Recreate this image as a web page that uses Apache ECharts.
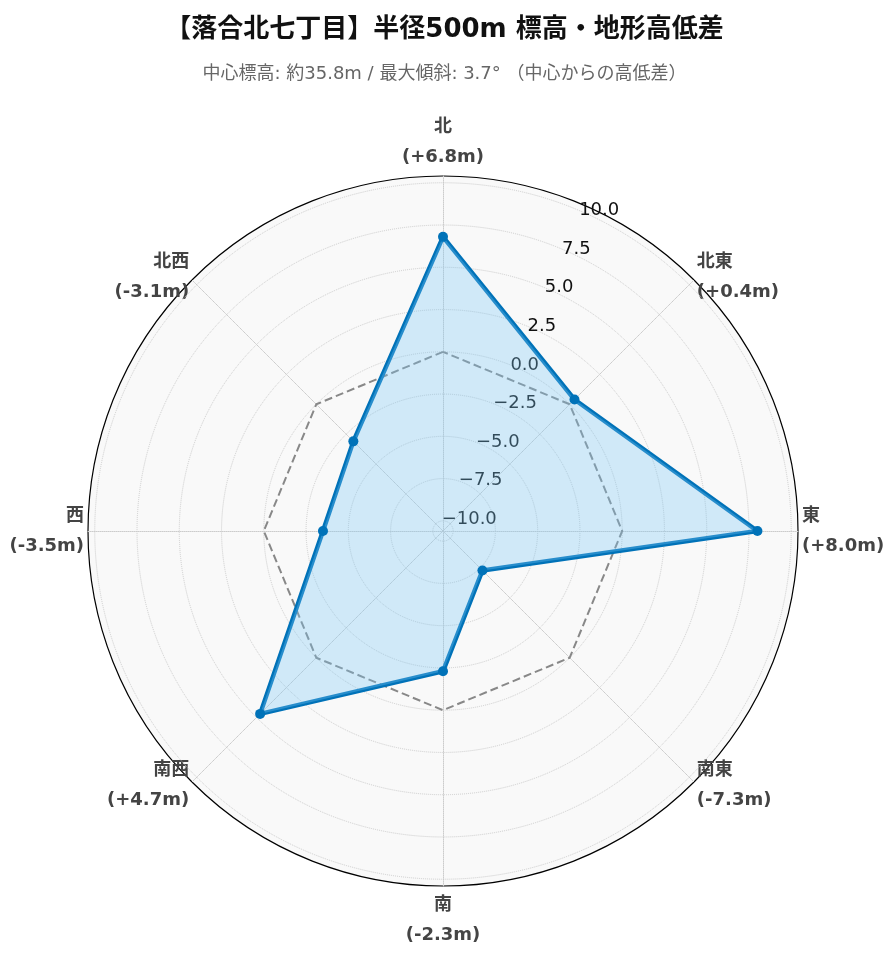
<!DOCTYPE html>
<html><head><meta charset="utf-8">
<script src="https://cdn.jsdelivr.net/npm/echarts@6/dist/echarts.min.js"></script>
<style>html,body{margin:0;padding:0;background:#fff}#c{width:889px;height:962px}</style>
</head><body><div id="c"></div>
<script>
const directions = ['北','北東','東','南東','南','南西','西','北西'];
const values = [6.8, 0.4, 8.0, -7.3, -2.3, 4.7, -3.5, -3.1];
const radialTicks = [-10, -7.5, -5, -2.5, 0, 2.5, 5, 7.5, 10];
const rMin = -10.6, rMax = 10.4;

const order = [0,7,6,5,4,3,2,1];
const fmt = v => (v >= 0 ? '+' : '') + v.toFixed(1) + 'm';
const indicators = order.map(i => ({name: directions[i] + '\n(' + fmt(values[i]) + ')', min: rMin, max: rMax}));
const dataVals = order.map(i => values[i]);
const zeroVals = order.map(() => 0);

const FF = 'DejaVu Sans, Noto Sans CJK JP';
const center = ['443px', '531px'];
const radius = 355;
const chart = echarts.init(document.getElementById('c'));
chart.setOption({
  backgroundColor: '#fff',
  title: {
    text: '【落合北七丁目】半径500m 標高・地形高低差',
    subtext: '中心標高: 約35.8m / 最大傾斜: 3.7° （中心からの高低差）',
    left: 'center', top: 12, itemGap: 22,
    textStyle: {fontSize: 26, fontWeight: 'bold', color: '#111', fontFamily: FF},
    subtextStyle: {fontSize: 18, color: '#666', fontFamily: FF}
  },
  polar: {center: center, radius: radius, z: 3},
  angleAxis: {type: 'value', min: 0, max: 360, startAngle: 66, show: false, z: 3},
  radiusAxis: {
    type: 'value', min: rMin, max: rMax, z: 3,
    axisLine: {show: false},
    axisTick: {show: false, customValues: radialTicks},
    axisLabel: {show: true, customValues: radialTicks, formatter: v => v.toFixed(1).replace('-', '−'),
      fontSize: 18, color: '#111', margin: 6, align: 'left', fontFamily: 'DejaVu Sans'},
    splitLine: {show: true, lineStyle: {color: '#ccc', type: 'dotted'}}
  },
  radar: {
    center: center, radius: radius, shape: 'circle', startAngle: 90, z: 1,
    indicator: indicators, splitNumber: 1,
    axisName: {color: '#444', fontSize: 18, fontWeight: 'bold', lineHeight: 30, fontFamily: FF},
    nameGap: 4,
    axisLine: {lineStyle: {color: '#ccc', type: 'dotted'}},
    splitLine: {lineStyle: {color: '#000', width: 1.2}},
    splitArea: {areaStyle: {color: ['#f9f9f9']}}
  },
  series: [
    {type: 'radar', silent: true, z: 4, symbol: 'none',
     data: [{value: zeroVals, lineStyle: {color: '#888', type: 'dashed', width: 2}}]},
    {type: 'radar', z: 5, symbol: 'circle', symbolSize: 10,
     data: [{value: dataVals,
       itemStyle: {color: '#0072b8'},
       lineStyle: {color: '#0072b8', width: 4.5},
       areaStyle: {color: 'rgba(120,200,245,0.32)', opacity: 1}}]}
  ]
});
</script></body></html>
